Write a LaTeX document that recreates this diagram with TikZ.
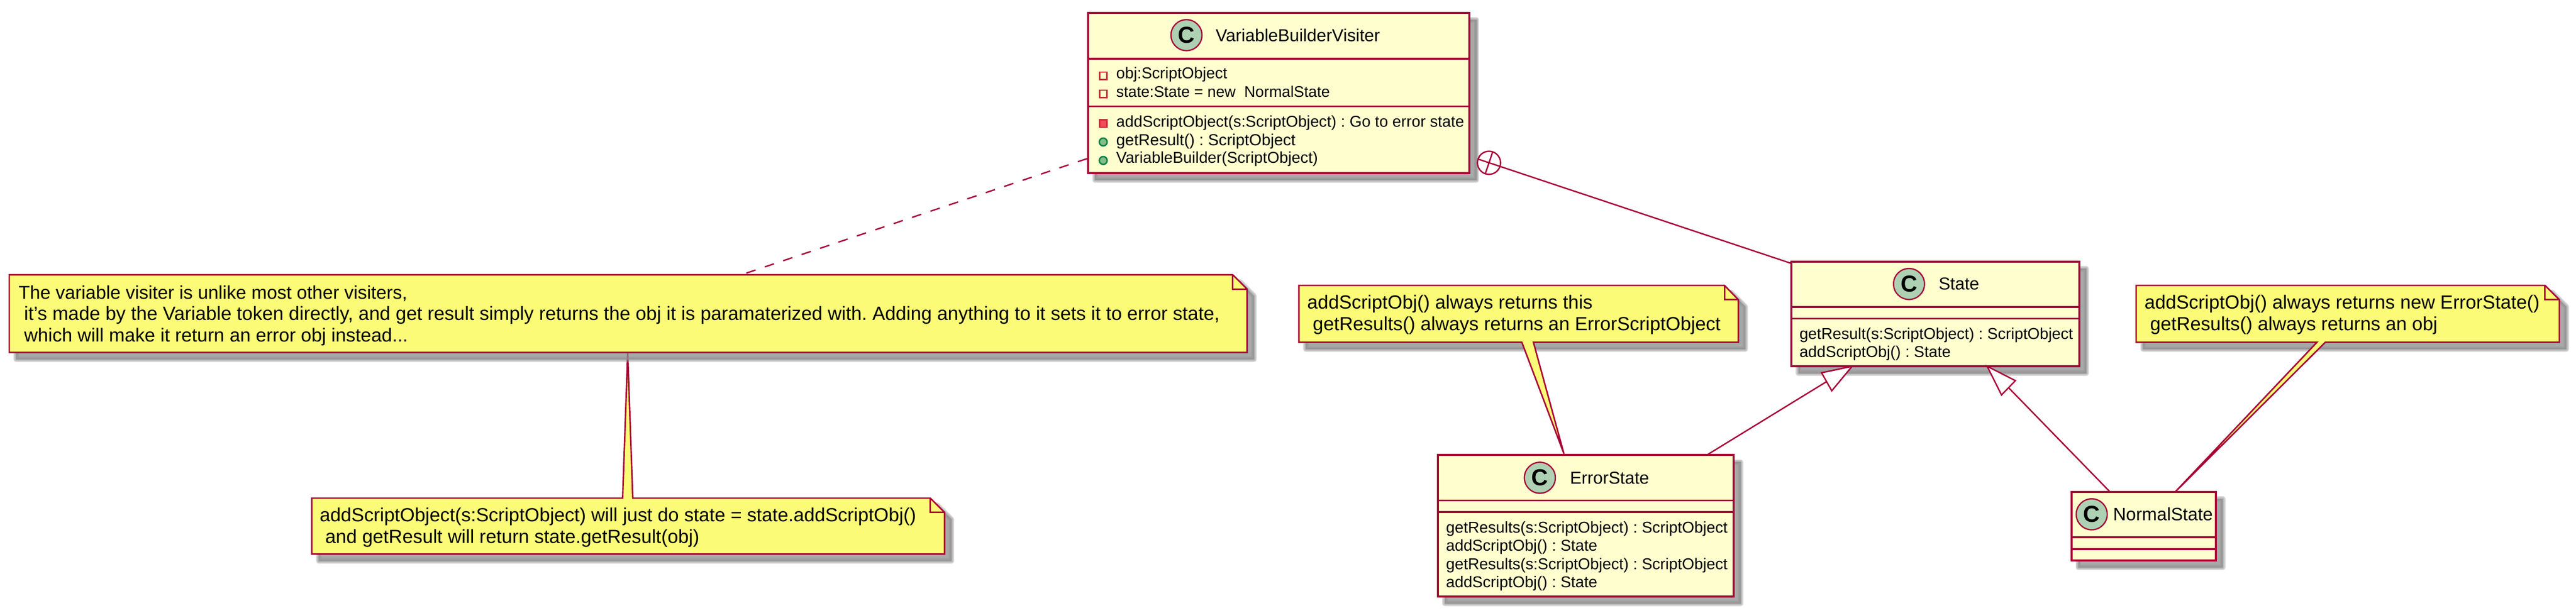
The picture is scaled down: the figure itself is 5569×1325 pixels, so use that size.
\documentclass[tikz,border=0pt]{standalone}
\usepackage{fontspec}
\setmainfont{Liberation Sans}
\usetikzlibrary{calc}
\frenchspacing
\definecolor{umlline}{HTML}{A80036}
\definecolor{classfill}{HTML}{FEFECE}
\definecolor{notefill}{HTML}{FBFB77}
\definecolor{spotfill}{HTML}{ADD1B2}
\definecolor{shadowgray}{HTML}{8D8D8D}
\definecolor{privline}{HTML}{C82930}
\definecolor{privfill}{HTML}{F24D5C}
\definecolor{publine}{HTML}{038048}
\definecolor{pubfill}{HTML}{84BE84}
\tikzset{
  classbox/.style={draw=umlline,fill=classfill,line width=4.4pt,inner sep=0pt,outer sep=0pt},
  sepline/.style={draw=umlline,line width=4.2pt},
  spot/.style={circle,draw=umlline,fill=spotfill,line width=2.8pt,minimum size=67pt,inner sep=0pt,font=\fontsize{50}{50}\selectfont\bfseries},
  titletext/.style={anchor=base west,inner sep=0pt,font=\fontsize{37.5}{40}\selectfont},
  membertext/.style={anchor=base west,inner sep=0pt,font=\fontsize{34}{36}\selectfont},
  notetext/.style={anchor=base west,inner sep=0pt,font=\fontsize{41.1}{44}\selectfont},
  noteshape/.style={draw=umlline,fill=notefill,line width=3.2pt,line join=miter},
  foldline/.style={draw=umlline,line width=3.2pt},
  link/.style={draw=umlline,line width=3pt},
  dashlink/.style={draw=umlline,line width=3pt,dash pattern=on 21pt off 21pt},
  inherit/.style={draw=umlline,fill=white,line width=3pt,line join=miter},
  privopen/.style={rectangle,draw=privline,fill=classfill,line width=3pt,minimum size=16pt,inner sep=0pt},
  privsolid/.style={rectangle,draw=privline,fill=privfill,line width=3pt,minimum size=16pt,inner sep=0pt},
  pubsolid/.style={circle,draw=publine,fill=pubfill,line width=3pt,minimum size=17pt,inner sep=0pt},
  shadowlayer/.style={draw=shadowgray,fill=shadowgray,opacity=0.3,line join=round},
}
% shadow: x1 y1 x2 y2 cut
\newcommand\softshadow[5]{%
  \foreach \w in {12,8,4,0.1}{%
    \draw[shadowlayer,line width=\w pt,shift={(15,15)}]
      (#1,#2)--({#3-#5},#2)--(#3,{#2+#5})--(#3,#4)--(#1,#4)--cycle;}}
% class: name x1 y1 x2 y2 sep1 sep2
\newcommand\umlclass[7]{%
  \softshadow{#2}{#3}{#4}{#5}{0}
  \node[classbox,minimum width={(#4-#2)*1pt},minimum height={(#5-#3)*1pt}] (#1) at ({(#2+#4)/2},{(#3+#5)/2}) {};
  \coordinate (#1s1) at (#2,#6);
  \coordinate (#1e1) at (#4,#6);
  \coordinate (#1s2) at (#2,#7);
  \coordinate (#1e2) at (#4,#7);
  \draw[sepline] (#1s1) -- (#1e1);
  \draw[sepline] (#1s2) -- (#1e2);}
\begin{document}
\begin{tikzpicture}[x=1pt,y=-1pt]
\useasboundingbox (0,0) rectangle (5569,1325);

% ---------- classes
\umlclass{vb}{2352}{28}{3177}{374}{127}{230}
\umlclass{state}{3873}{566}{4495}{792}{664}{689}
\umlclass{err}{3109}{984}{3748}{1290}{1082}{1107}
\umlclass{norm}{4478}{1064}{4790}{1212}{1162}{1187}

% ---------- class headers
\node[spot] (vbC) at (2565,76) {C};
\node[titletext] (vbT) at (2628,90) {VariableBuilderVisiter};
\node[spot] (stateC) at (4127,614) {C};
\node[titletext] (stateT) at (4191,627) {State};
\node[spot] (errC) at (3329,1033) {C};
\node[titletext] (errT) at (3394,1046) {ErrorState};
\node[spot] (normC) at (4522,1112) {C};
\node[titletext,font=\fontsize{38.8}{40}\selectfont] (normT) at (4568,1126) {NormalState};

% ---------- members
\node[privopen] (vbI1) at (2385,164) {};
\node[membertext] (vbM1) at (2413,170) {obj:ScriptObject};
\node[privopen] (vbI2) at (2385,203) {};
\node[membertext,font=\fontsize{33.3}{36}\selectfont] (vbM2) at (2413,210) {state:State = new\ \ NormalState};
\node[privsolid] (vbI3) at (2385,267) {};
\node[membertext] (vbM3) at (2413,275) {addScriptObject(s:ScriptObject) : Go to error state};
\node[pubsolid] (vbI4) at (2385,307) {};
\node[membertext,font=\fontsize{34.7}{36}\selectfont] (vbM4) at (2413,315) {getResult() : ScriptObject};
\node[pubsolid] (vbI5) at (2385,347) {};
\node[membertext] (vbM5) at (2413,353) {VariableBuilder(ScriptObject)};

\node[membertext] (stateM1) at (3890,733) {getResult(s:ScriptObject) : ScriptObject};
\node[membertext] (stateM2) at (3890,772) {addScriptObj() : State};

\node[membertext] (errM1) at (3126,1152) {getResults(s:ScriptObject) : ScriptObject};
\node[membertext] (errM2) at (3126,1191) {addScriptObj() : State};
\node[membertext] (errM3) at (3126,1231) {getResults(s:ScriptObject) : ScriptObject};
\node[membertext] (errM4) at (3126,1270) {addScriptObj() : State};

% ---------- note 3 (with its wedge up to note 1)
\softshadow{674}{1077}{2042}{1198}{31}
\coordinate (n3tip) at (1357,763);
\draw[noteshape] (674,1077) -- (1346,1077) -- (n3tip) -- (1368,1077) -- (2011,1077) -- (2042,1108) -- (2042,1198) -- (674,1198) -- cycle;
\draw[foldline] (2011,1077) -- (2011,1108) -- (2042,1108);
\node[notetext] (n3a) at (691,1128) {addScriptObject(s:ScriptObject) will just do state = state.addScriptObj()};
\node[notetext] (n3b) at (703,1175) {and getResult will return state.getResult(obj)};

% ---------- note 1
\softshadow{20}{594}{2696}{762}{31}
\draw[noteshape] (20,594) -- (2665,594) -- (2696,625) -- (2696,762) -- (20,762) -- cycle;
\draw[foldline] (2665,594) -- (2665,625) -- (2696,625);
\node[notetext,font=\fontsize{40.1}{44}\selectfont] (n1a) at (40,646) {The variable visiter is unlike most other visiters,};
\node[notetext,font=\fontsize{41.3}{44}\selectfont] (n1b) at (52,692) {it's made by the Variable token directly, and get result simply returns the obj it is paramaterized with. Adding anything to it sets it to error state,};
\node[notetext,font=\fontsize{40.8}{44}\selectfont] (n1c) at (52,739) {which will make it return an error obj instead...};

% ---------- note 2 (with wedge to ErrorState)
\softshadow{2808}{617}{3758}{740}{31}
\coordinate (n2tip) at (3381,981);
\draw[noteshape] (2808,617) -- (3728,617) -- (3758,648) -- (3758,740) -- (3315,740) -- (n2tip) -- (3290,740) -- (2808,740) -- cycle;
\draw[foldline] (3728,617) -- (3728,648) -- (3758,648);
\node[notetext] (n2a) at (2826,668) {addScriptObj() always returns this};
\node[notetext] (n2b) at (2838,715) {getResults() always returns an ErrorScriptObject};

% ---------- note 4 (with wedge to NormalState)
\softshadow{4618}{617}{5533}{740}{31}
\coordinate (n4tip) at (4703,1063);
\draw[noteshape] (4618,617) -- (5502,617) -- (5533,648) -- (5533,740) -- (5027,740) -- (n4tip) -- (5009,740) -- (4618,740) -- cycle;
\draw[foldline] (5502,617) -- (5502,648) -- (5533,648);
\node[notetext] (n4a) at (4636,668) {addScriptObj() always returns new ErrorState()};
\node[notetext] (n4b) at (4648,715) {getResults() always returns an obj};

% ---------- connectors
\coordinate (dashA) at (2350,343);
\coordinate (dashB) at (1609,592);
\draw[dashlink] (dashA) -- (dashB);

\node[circle,draw=umlline,fill=white,line width=3pt,minimum size=50pt,inner sep=0pt] (plus) at (3219,352) {};
\coordinate (plusL) at (3195.3,344);
\coordinate (plusT) at (3227,328.3);
\coordinate (plusB) at (3211,375.7);
\coordinate (stateIn) at (3871,569);
\draw[link] (plusL) -- (stateIn);
\draw[link] (plusT) -- (plusB);

\coordinate (errOut) at (3693,982);
\coordinate (errBase) at (3949,825);
\coordinate (errTip) at (4004,792);
\coordinate (errC1) at (3938,806);
\coordinate (errC2) at (3960,845);
\draw[link] (errOut) -- (errBase);
\draw[inherit] (errTip) -- (errC1) -- (errC2) -- cycle;

\coordinate (normOut) at (4560,1062);
\coordinate (normBase) at (4342,838);
\coordinate (normTip) at (4296,792);
\coordinate (normC1) at (4357,823);
\coordinate (normC2) at (4327,854);
\draw[link] (normOut) -- (normBase);
\draw[inherit] (normTip) -- (normC1) -- (normC2) -- cycle;
\end{tikzpicture}
\end{document}
